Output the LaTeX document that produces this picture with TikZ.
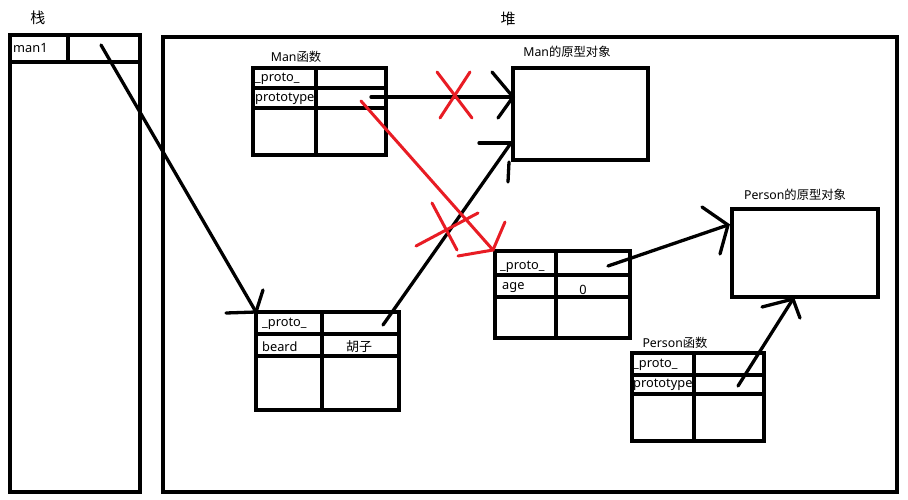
\documentclass[tikz,border=0pt]{standalone}
\usepackage{fontspec}
\setmainfont{Noto Sans}
\newfontfamily\cjk{Noto Sans CJK SC}
\definecolor{pen}{RGB}{232,28,36}
\begin{document}
\begin{tikzpicture}[x=1pt,y=-1pt,
  box/.style={draw=black,line width=3.3pt,line join=miter},
  ink/.style={draw=black,line width=3.3pt,line cap=round},
  redink/.style={draw=pen,line width=3pt,line cap=round},
  txt/.style={inner sep=0pt,anchor=west,font=\fontsize{12.8}{14}\selectfont},
  ttl/.style={inner sep=0pt,font=\fontsize{12.3}{14}\selectfont},
  big/.style={inner sep=0pt,font=\cjk\fontsize{15}{17}\selectfont}]
\useasboundingbox (0,0) rectangle (908,500);
\fill[white] (0,0) rectangle (908,500);
% ---- stack ----
\node[big] (stackT) at (38,18) {栈};
\draw[box] (10,35) rectangle (140,492);
\draw[box] (10,62) -- (140,62);
\draw[box] (68,35) -- (68,62);
\node[txt] (man1) at (13,48) {man1};
% ---- heap ----
\node[big] (heapT) at (508,19) {堆};
\draw[box] (163,37) rectangle (897,492);
% ---- Man function ----
\node[ttl] (manfT) at (296,57) {Man{\cjk 函数}};
\draw[box] (253,68) rectangle (386,155);
\draw[box] (253,88) -- (386,88);
\draw[box] (253,108) -- (386,108);
\draw[box] (316,68) -- (316,155);
\node[txt] (mfp) at (255,79) {\_proto\_};
\node[txt] (mfpt) at (255,99) {prototype};
% ---- Man prototype object ----
\node[ttl] (manpT) at (567,52) {Man{\cjk 的原型对象}};
\draw[box] (513,68) rectangle (648,160);
% ---- new object (age) ----
\draw[box] (495,251) rectangle (630,338);
\draw[box] (495,275) -- (630,275);
\draw[box] (495,297) -- (630,297);
\draw[box] (556,251) -- (556,338);
\node[txt] (op) at (500,267) {\_proto\_};
\node[txt] (oage) at (502,288) {age};
\node[inner sep=0pt,font=\fontsize{12.8}{14}\selectfont] (oval) at (583,290) {0};
% ---- Person prototype object ----
\node[ttl] (perpT) at (795,195) {Person{\cjk 的原型对象}};
\draw[box] (732,209) rectangle (878,297);
% ---- Person function ----
\node[ttl] (perfT) at (675,343) {Person{\cjk 函数}};
\draw[box] (632,353) rectangle (764,441);
\draw[box] (632,375) -- (764,375);
\draw[box] (632,394) -- (764,394);
\draw[box] (694,353) -- (694,441);
\node[txt] (pfp) at (633,365) {\_proto\_};
\node[txt] (pfpt) at (633,385) {prototype};
% ---- man1 object ----
\draw[box] (256,312) rectangle (399,410);
\draw[box] (256,334) -- (399,334);
\draw[box] (256,356) -- (399,356);
\draw[box] (322,312) -- (322,410);
\node[txt] (mp) at (262,324) {\_proto\_};
\node[txt] (mbeard) at (262,347) {beard};
\node[inner sep=0pt,font=\cjk\fontsize{13}{14}\selectfont] (mhu) at (359,347) {胡子};
% ---- connector coordinates ----
\coordinate (a1s) at (101,45);
\coordinate (a1e) at (256,312);
\coordinate (a1w1) at (263,290);
\coordinate (a1w2) at (226,313);
\coordinate (a2s) at (383,325);
\coordinate (a2e) at (511,143);
\coordinate (a2w1) at (479,143);
\coordinate (a2w2) at (508,182);
\coordinate (a2w2b) at (509,162);
\coordinate (a3s) at (371,97);
\coordinate (a3e) at (513,97);
\coordinate (a3w1) at (492,72);
\coordinate (a3w2) at (498,118);
\coordinate (a5s) at (608,266);
\coordinate (a5e) at (728,225);
\coordinate (a5w1) at (702,207);
\coordinate (a5w2) at (720,254);
\coordinate (a6s) at (738,386);
\coordinate (a6e) at (793,299);
\coordinate (a6w1) at (762,307);
\coordinate (a6w2) at (800,318);
\coordinate (r1s) at (361,101);
\coordinate (r1e) at (493,250);
\coordinate (r1w1) at (505,222);
\coordinate (r1w2) at (458,256);
% ---- black arrows ----
\draw[ink] (a1s) -- (a1e); \draw[ink] (a1w1) -- (a1e) -- (a1w2);
\draw[ink] (a2s) -- (a2e); \draw[ink] (a2w1) -- (a2e); \draw[ink] (a2w2) -- (a2w2b);
\draw[ink] (a3s) -- (a3e); \draw[ink] (a3w1) -- (a3e) -- (a3w2);
\draw[ink] (a5s) -- (a5e); \draw[ink] (a5w1) -- (a5e) -- (a5w2);
\draw[ink] (a6s) -- (a6e); \draw[ink] (a6w1) -- (a6e) -- (a6w2);
% ---- red ----
\draw[redink] (r1s) -- (r1e); \draw[redink] (r1w1) -- (r1e) -- (r1w2);
\draw[redink] (437,72) -- (472,118);
\draw[redink] (470,72) -- (440,118);
\draw[redink] (432,203) -- (457,250);
\draw[redink] (416,246) -- (478,213);
\end{tikzpicture}
\end{document}
